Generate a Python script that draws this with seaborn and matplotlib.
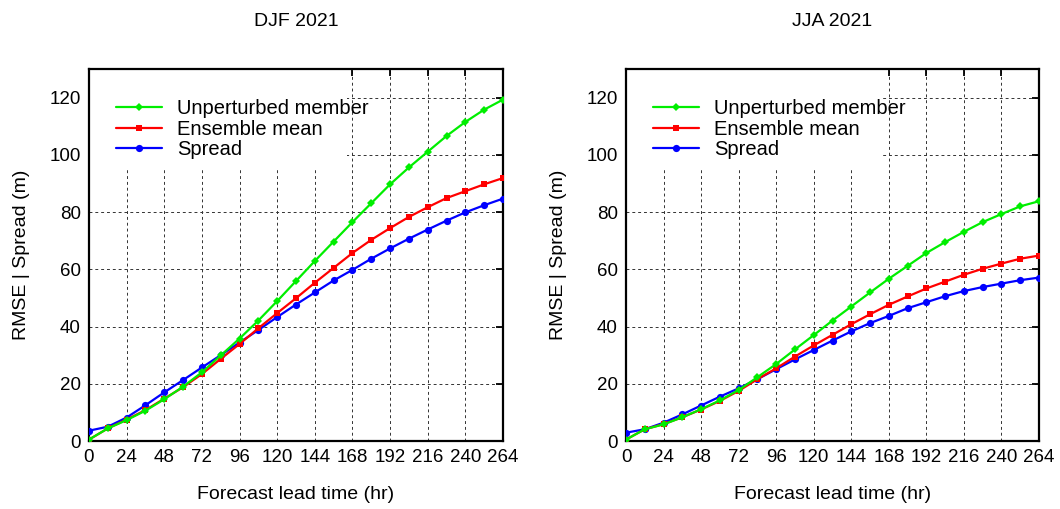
import numpy as np
import pandas as pd
import matplotlib
matplotlib.use("Agg")
import matplotlib.pyplot as plt
from matplotlib.patches import Rectangle
import seaborn as sns

lead_time = list(range(0, 265, 12))
x_ticks = list(range(0, 265, 24))
y_ticks = list(range(0, 121, 20))

panel_titles = ["DJF 2021", "JJA 2021"]
series_names = ["Unperturbed member", "Ensemble mean", "Spread"]

djf_unperturbed = [0.5, 4.4, 7.3, 10.6, 14.6, 19.0, 24.0, 29.9, 35.8, 42.1, 48.9, 55.9,
                   62.9, 69.7, 76.5, 83.1, 89.7, 95.6, 101.1, 106.6, 111.5, 115.8, 119.3]
djf_ensmean = [0.5, 4.4, 7.5, 10.8, 14.8, 18.8, 23.4, 28.7, 33.9, 39.4, 44.7, 49.9,
               55.3, 60.5, 65.7, 70.3, 74.4, 78.3, 81.7, 84.9, 87.3, 89.7, 91.9]
djf_spread = [3.6, 5.0, 8.2, 12.5, 17.0, 21.3, 25.7, 30.0, 34.4, 38.8, 43.3, 47.7,
              51.9, 56.1, 59.8, 63.7, 67.3, 70.7, 73.9, 77.0, 79.9, 82.4, 84.7]

jja_unperturbed = [0.5, 4.1, 5.8, 8.3, 11.1, 14.2, 17.8, 22.3, 26.9, 32.0, 37.0, 42.1,
                   47.0, 51.9, 56.7, 61.2, 65.7, 69.5, 73.1, 76.5, 79.3, 82.0, 83.8]
jja_ensmean = [0.5, 4.1, 5.9, 8.3, 11.0, 14.0, 17.5, 21.6, 25.4, 29.5, 33.4, 37.1,
               40.8, 44.3, 47.6, 50.5, 53.3, 55.7, 58.1, 60.2, 62.0, 63.7, 64.8]
jja_spread = [2.9, 4.1, 6.4, 9.3, 12.4, 15.5, 18.4, 21.6, 25.1, 28.5, 31.8, 35.1,
              38.3, 41.2, 43.7, 46.4, 48.5, 50.6, 52.4, 53.8, 55.0, 56.2, 57.1]

panels = [
    {"Unperturbed member": djf_unperturbed, "Ensemble mean": djf_ensmean, "Spread": djf_spread},
    {"Unperturbed member": jja_unperturbed, "Ensemble mean": jja_ensmean, "Spread": jja_spread},
]

styles = {
    "Unperturbed member": dict(color="#00ee00", marker="D", markersize=4.0),
    "Ensemble mean": dict(color="#ff0000", marker="s", markersize=4.8),
    "Spread": dict(color="#0000ff", marker="o", markersize=5.2),
}
draw_order = ["Spread", "Ensemble mean", "Unperturbed member"]

sns.set_style("white")
plt.rcParams["font.family"] = ["Liberation Sans", "DejaVu Sans"]
plt.rcParams["text.color"] = "black"
plt.rcParams["axes.labelcolor"] = "black"
plt.rcParams["xtick.color"] = "black"
plt.rcParams["ytick.color"] = "black"

fig = plt.figure(figsize=(10.6, 5.09), dpi=100)
axes_pos = [[89 / 1060, 1 - 441 / 509, 414 / 1060, 372 / 509],
            [626 / 1060, 1 - 441 / 509, 413 / 1060, 372 / 509]]

for i, pos in enumerate(axes_pos):
    ax = fig.add_axes(pos)
    data = panels[i]
    for name in draw_order:
        df = pd.DataFrame({"lead": lead_time, "value": data[name]})
        st = styles[name]
        sns.lineplot(data=df, x="lead", y="value", ax=ax, color=st["color"],
                     marker=st["marker"], markersize=st["markersize"],
                     markeredgewidth=0, linewidth=1.6, label=name, zorder=3)
    ax.set_xlim(0, 264)
    ax.set_ylim(0, 130)
    ax.set_xticks(x_ticks)
    ax.set_yticks(y_ticks)
    ax.set_axisbelow(True)
    ax.grid(True, linestyle=(0, (3, 3)), color="#333333", linewidth=0.7)
    ax.add_patch(Rectangle((0, 0.734), 0.623, 0.27, transform=ax.transAxes,
                           facecolor="white", edgecolor="none", zorder=1))
    for sp in ax.spines.values():
        sp.set_linewidth(1.6)
        sp.set_color("black")
    ax.tick_params(direction="in", length=5, width=1.3, top=True, right=True,
                   labelsize=13.5, pad=6, colors="black")
    ax.set_xlabel("Forecast lead time (hr)", fontsize=14, labelpad=14)
    ax.set_ylabel("RMSE | Spread (m)", fontsize=14, labelpad=14)
    ax.set_title(panel_titles[i], fontsize=14, pad=31)
    handles, labels = ax.get_legend_handles_labels()
    order = [labels.index(n) for n in series_names]
    leg = ax.legend([handles[k] for k in order], [labels[k] for k in order],
                    loc="upper left", bbox_to_anchor=(0.045, 0.941), frameon=False,
                    fontsize=14.5, handlelength=2.3, handletextpad=0.75,
                    labelspacing=0.08, borderaxespad=0)
    leg.set_zorder(5)

fig.savefig("out.png", dpi=100)
